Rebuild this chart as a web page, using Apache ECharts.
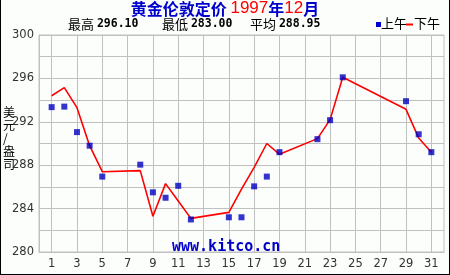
<!DOCTYPE html>
<html><head><meta charset="utf-8">
<script src="https://cdn.jsdelivr.net/npm/echarts@6/dist/echarts.min.js"></script>
<style>html,body{margin:0;padding:0;background:#fcfefc}#c{width:450px;height:275px}</style>
</head><body><div id="c"></div>
<script>
var days = [1,2,3,4,5,8,9,10,11,12,15,16,17,18,19,22,23,24,29,30,31];
var amValues = [293.35,293.40,291.05,289.80,286.95,288.05,285.50,285.00,286.10,283.00,283.20,283.20,286.05,286.95,289.20,290.40,292.15,296.10,293.90,290.85,289.20];
var pmValues = [294.40,295.15,293.30,289.80,287.40,287.50,283.30,286.30,284.70,283.10,283.65,285.80,287.80,290.00,289.00,290.45,292.20,296.10,293.15,290.50,289.20];
var xCategories = [];
for (var i = 0; i <= 32; i++) xCategories.push(String(i));
var yTickLabels = [280,284,288,292,296,300];
var statLabels = ['最高','最低','平均'];
var statValues = ['296.10','283.00','288.95'];

function toSeries(vals){
  var arr = xCategories.map(function(){return null;});
  days.forEach(function(d,k){ arr[d] = vals[k]; });
  return arr;
}
var chart = echarts.init(document.getElementById('c'), null, {renderer:'canvas'});
var blue = '#0000cc', red = '#ff0000', gridC = '#c0c0c0';
var statX = [68, 162, 250];
var graphics = [];
statLabels.forEach(function(l,k){
  graphics.push({type:'text', left:statX[k], top:18, style:{
    text:'{a|'+l+' }{b|'+statValues[k]+'}',
    rich:{a:{fontFamily:'Noto Sans CJK SC',fontSize:13,fill:'#000'},
          b:{fontFamily:'DejaVu Sans Mono',fontWeight:'bold',fontSize:11.5,fill:'#000'}}
  }});
});
graphics.push(
  {type:'rect', shape:{x:376,y:22,width:5,height:5}, style:{fill:blue}},
  {type:'text', left:381, top:17, style:{text:'上午', font:'13px "Noto Sans CJK SC"', fill:'#000'}},
  {type:'line', shape:{x1:406,y1:24.5,x2:413,y2:24.5}, style:{stroke:red, lineWidth:2}},
  {type:'text', left:414, top:17, style:{text:'下午', font:'13px "Noto Sans CJK SC"', fill:'#000'}},
  {type:'text', left:3, top:106, style:{text:'美\n元\n/\n盎\n司', font:'12px "Noto Sans CJK SC"', fill:'#000', lineHeight:13}},
  {type:'text', left:172, top:240, z:1, style:{text:'www.kitco.cn', font:'bold 15px "DejaVu Sans Mono"', fill:blue}},
  {type:'line', shape:{x1:0.5,y1:0,x2:0.5,y2:275}, style:{stroke:'#000', lineWidth:1}},
  {type:'line', shape:{x1:449.5,y1:0,x2:449.5,y2:275}, style:{stroke:'#000', lineWidth:1}},
  {type:'line', shape:{x1:0,y1:274.5,x2:450,y2:274.5}, style:{stroke:'#000', lineWidth:1}}
);
chart.setOption({
  backgroundColor:'#fcfefc',
  animation:false,
  title:{
    text:'{b|黄金伦敦定价 }{r|1997}{b|年}{r|12}{b|月}',
    left:'center', top:0, padding:[0,0,0,0],
    textStyle:{rich:{
      b:{fontFamily:'Noto Sans CJK SC', fontWeight:'bold', fontSize:16, color:blue},
      r:{fontFamily:'Liberation Sans', fontWeight:'normal', fontSize:17, color:red}
    }}
  },
  grid:{left:39, right:6, top:35, bottom:23, containLabel:false, show:true, borderColor:gridC, borderWidth:1, backgroundColor:'#fcfefc'},
  xAxis:{
    type:'category', data:xCategories, boundaryGap:false,
    axisLine:{lineStyle:{color:gridC}}, axisTick:{show:false},
    axisLabel:{interval:function(i){return i%2===1;}, color:'#333', fontFamily:'DejaVu Sans', fontSize:11.5, margin:6},
    splitLine:{show:true, interval:function(i){return i%2===1;}, lineStyle:{color:gridC, width:1}}
  },
  yAxis:{
    type:'value', min:280, max:300, interval:2,
    axisLine:{show:true, lineStyle:{color:gridC}}, axisTick:{show:false},
    axisLabel:{color:'#333', fontFamily:'DejaVu Sans', fontSize:11.5, margin:5,
      formatter:function(v){return yTickLabels.indexOf(v)>=0 ? String(v) : '';}},
    splitLine:{show:true, lineStyle:{color:gridC, width:1}}
  },
  graphic:graphics,
  series:[
    {name:'下午', type:'line', data:toSeries(pmValues), connectNulls:true, symbol:'none',
     lineStyle:{color:red, width:1.6}, z:3},
    {name:'上午', type:'scatter', data:toSeries(amValues), symbol:'rect', symbolSize:6,
     itemStyle:{color:'#0000c0'}, z:4}
  ]
});
</script></body></html>
